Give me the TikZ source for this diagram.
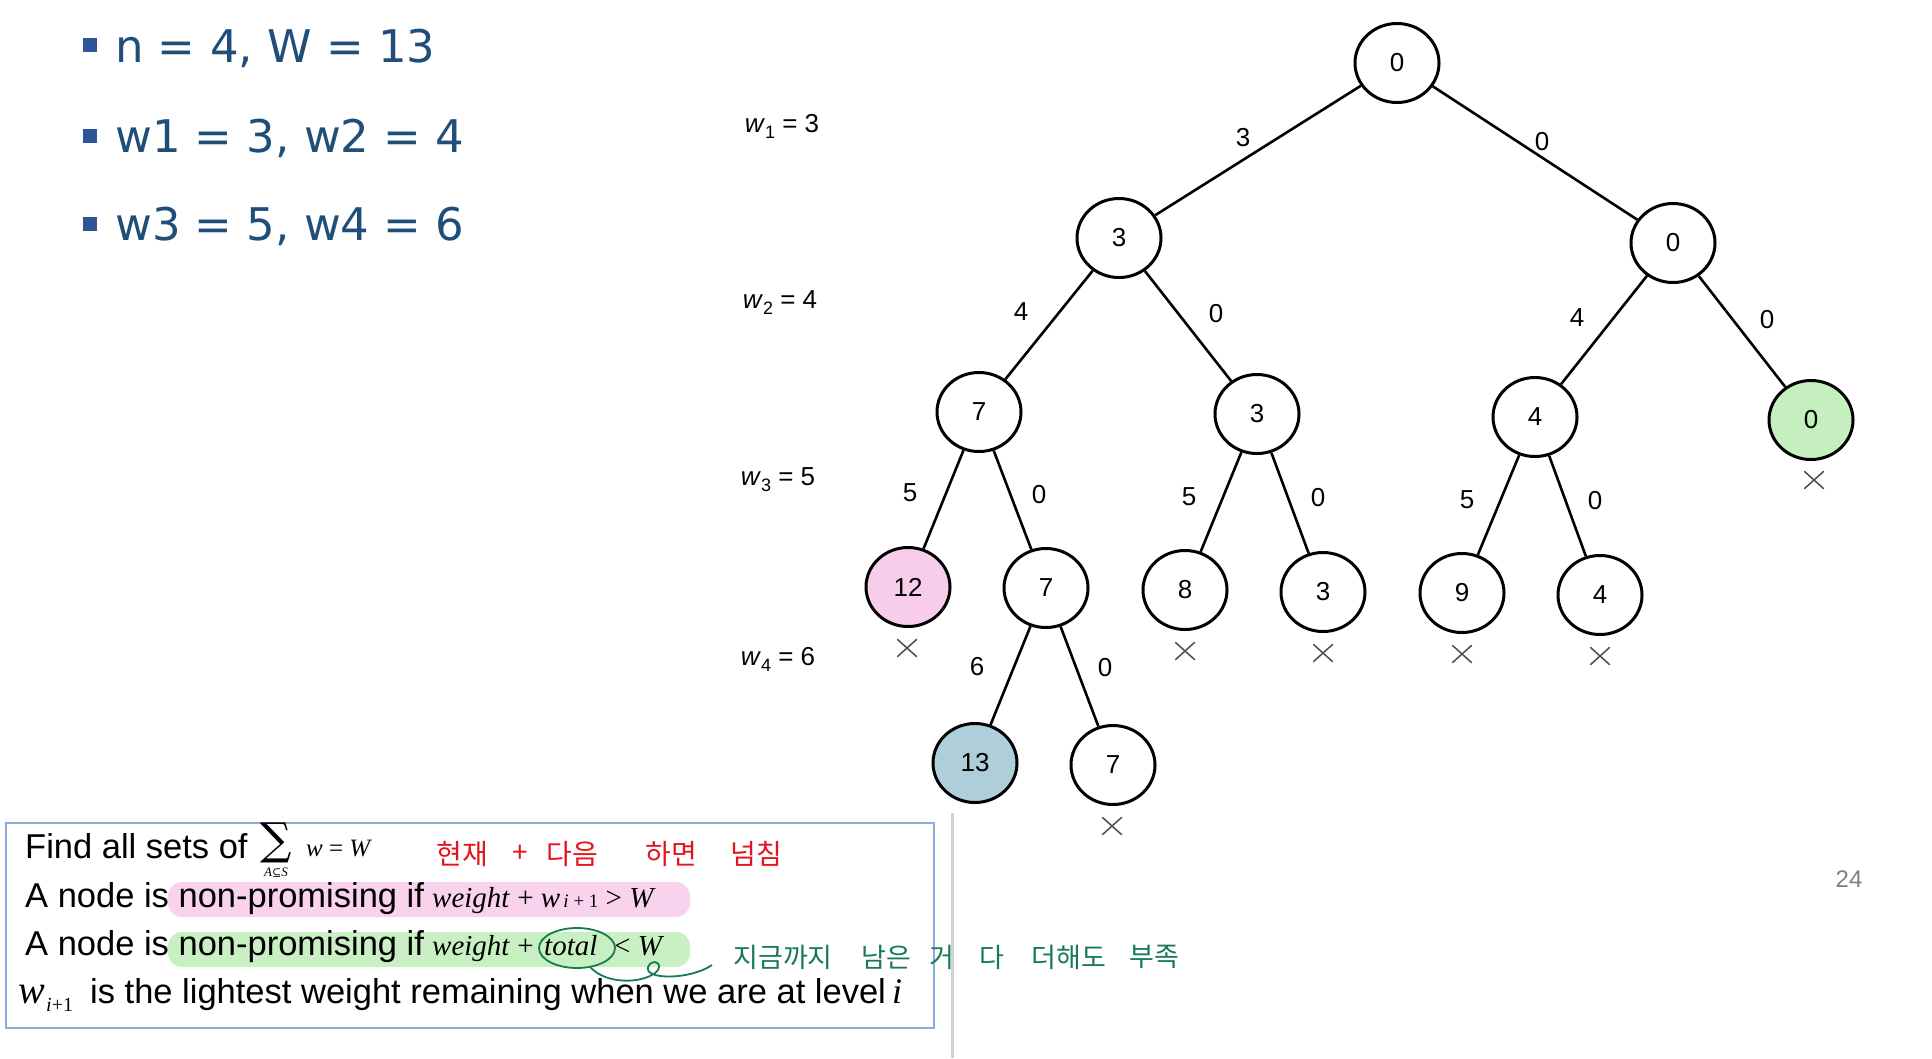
\documentclass[tikz,border=0pt]{standalone}
\usepackage{fontspec}
\setmainfont{Liberation Sans}
\newfontfamily\bulfont{DejaVu Sans}
\newfontfamily\serfont{Liberation Serif}
\newfontfamily\dvserif{DejaVu Serif}
\newfontfamily\krfont{Noto Sans CJK KR}
\usetikzlibrary{shapes.geometric,shapes.misc}
\definecolor{bultext}{RGB}{31,78,121}
\definecolor{bulsq}{RGB}{47,85,151}
\definecolor{pinkfill}{RGB}{248,205,235}
\definecolor{greenfill}{RGB}{198,239,192}
\definecolor{bluefill}{RGB}{174,207,218}
\definecolor{pinkhl}{RGB}{249,211,238}
\definecolor{greenhl}{RGB}{201,240,195}
\definecolor{boxblue}{RGB}{143,170,220}
\definecolor{redink}{RGB}{226,20,30}
\definecolor{greenink}{RGB}{22,122,82}
\begin{document}
\begin{tikzpicture}[x=1pt,y=-1pt,
  tnode/.style={ellipse, draw=black, line width=3pt, minimum width=84pt, minimum height=79pt, inner sep=0pt, fill=white, font=\fontsize{26}{26}\selectfont},
  elab/.style={inner sep=0pt, font=\fontsize{26}{26}\selectfont},
  lvl/.style={inner sep=0pt, font=\fontsize{26}{26}\selectfont},
  xmark/.style={cross out, draw=black!70, line width=1.5pt, minimum width=18pt, minimum height=16pt, inner sep=0pt},
  tedge/.style={line width=2.6pt},
  bsq/.style={fill=bulsq, minimum size=14pt, inner sep=0pt},
  btext/.style={anchor=base west, inner sep=0pt, text=bultext, font=\bulfont\fontsize{45}{45}\selectfont},
  boxtext/.style={anchor=base west, inner sep=0pt, font=\fontsize{34.5}{34.5}\selectfont},
  mathtext/.style={anchor=base west, inner sep=0pt, font=\serfont\fontsize{29}{29}\selectfont},
  redword/.style={inner sep=0pt, text=redink, font=\krfont\fontsize{28}{28}\selectfont},
  greenword/.style={inner sep=0pt, text=greenink, font=\krfont\fontsize{27}{27}\selectfont}
]
\useasboundingbox (0,0) rectangle (1932,1058);

% bullets
\node[bsq] (b1) at (90,45) {};
\node[bsq] (b2) at (90,136) {};
\node[bsq] (b3) at (90,224) {};
\node[btext] (t1) at (115,62) {n = 4, W = 13};
\node[btext] (t2) at (115,152) {w1 = 3, w2 = 4};
\node[btext] (t3) at (115,240) {w3 = 5, w4 = 6};

% level labels
\node[lvl] (lv1) at (782,126) {\textit{w}\raisebox{-6pt}{\fontsize{18}{18}\selectfont 1} = 3};
\node[lvl] (lv2) at (780,303) {\textit{w}\raisebox{-6pt}{\fontsize{18}{18}\selectfont 2} = 4};
\node[lvl] (lv3) at (778,480) {\textit{w}\raisebox{-6pt}{\fontsize{18}{18}\selectfont 3} = 5};
\node[lvl] (lv4) at (778,659) {\textit{w}\raisebox{-6pt}{\fontsize{18}{18}\selectfont 4} = 6};

% tree nodes
\node[tnode] (r) at (1397,63) {0};
\node[tnode] (a) at (1119,238) {3};
\node[tnode] (b) at (1673,243) {0};
\node[tnode] (aa) at (979,412) {7};
\node[tnode] (ab) at (1257,414) {3};
\node[tnode] (ba) at (1535,417) {4};
\node[tnode, fill=greenfill] (bb) at (1811,420) {0};
\node[tnode, fill=pinkfill] (aaa) at (908,587) {12};
\node[tnode] (aab) at (1046,588) {7};
\node[tnode] (aba) at (1185,590) {8};
\node[tnode] (abb) at (1323,592) {3};
\node[tnode] (baa) at (1462,593) {9};
\node[tnode] (bab) at (1600,595) {4};
\node[tnode, fill=bluefill] (aaba) at (975,763) {13};
\node[tnode] (aabb) at (1113,765) {7};

% edges
\draw[tedge] (r) -- (a);
\draw[tedge] (r) -- (b);
\draw[tedge] (a) -- (aa);
\draw[tedge] (a) -- (ab);
\draw[tedge] (b) -- (ba);
\draw[tedge] (b) -- (bb);
\draw[tedge] (aa) -- (aaa);
\draw[tedge] (aa) -- (aab);
\draw[tedge] (ab) -- (aba);
\draw[tedge] (ab) -- (abb);
\draw[tedge] (ba) -- (baa);
\draw[tedge] (ba) -- (bab);
\draw[tedge] (aab) -- (aaba);
\draw[tedge] (aab) -- (aabb);

% edge labels
\node[elab] (e1) at (1243,138) {3};
\node[elab] (e2) at (1542,142) {0};
\node[elab] (e3) at (1021,312) {4};
\node[elab] (e4) at (1216,314) {0};
\node[elab] (e5) at (1577,318) {4};
\node[elab] (e6) at (1767,320) {0};
\node[elab] (e7) at (910,493) {5};
\node[elab] (e8) at (1039,495) {0};
\node[elab] (e9) at (1189,497) {5};
\node[elab] (e10) at (1318,498) {0};
\node[elab] (e11) at (1467,500) {5};
\node[elab] (e12) at (1595,501) {0};
\node[elab] (e13) at (977,667) {6};
\node[elab] (e14) at (1105,668) {0};

% X marks
\node[xmark] (x1) at (907,648) {};
\node[xmark] (x2) at (1185,651) {};
\node[xmark] (x3) at (1323,653) {};
\node[xmark] (x4) at (1462,654) {};
\node[xmark] (x5) at (1600,656) {};
\node[xmark] (x6) at (1814,480) {};
\node[xmark] (x7) at (1112,826) {};

% page number and separator
\node[inner sep=0pt, text=black!50, font=\fontsize{24}{24}\selectfont] (pg) at (1849,879) {24};
\draw[line width=3pt, black!18] (952,813) -- (952,1058);

% bottom box
\draw[line width=1.8pt, boxblue] (6,823) rectangle (934,1028);
\fill[pinkhl, rounded corners=14pt] (168,882) rectangle (690,917);
\fill[greenhl, rounded corners=14pt] (168,932) rectangle (690,967);

\node[boxtext] (l1) at (25,858) {Find all sets of};
\node[inner sep=0pt, font=\dvserif\fontsize{44}{44}\selectfont] (sig) at (276,843) {∑};
\node[inner sep=0pt, font=\serfont\itshape\fontsize{13}{13}\selectfont] (sigsub) at (276,873) {A{\dvserif\upshape\fontsize{11}{11}\selectfont ⊆}S};
\node[anchor=base west, inner sep=0pt, font=\serfont\fontsize{25}{25}\selectfont] (wW) at (306,856) {\textit{w} = \textit{W}};

\node[boxtext] (l2) at (25,907) {A node is non-promising if};
\node[mathtext] (m2) at (432,907) {\textit{weight} + \textit{w}{\fontsize{19}{19}\selectfont\,\textit{i} + 1} > \textit{W}};

\node[boxtext] (l3) at (25,955) {A node is non-promising if};
\node[mathtext] (m3a) at (432,955) {\textit{weight} +};
\node[mathtext] (m3b) at (544,955) {\textit{total}};
\node[mathtext] (m3c) at (614,955) {< \textit{W}};

\node[anchor=base west, inner sep=0pt, font=\serfont\itshape\fontsize{40}{40}\selectfont] (l4w) at (18,1003) {w};
\node[anchor=base west, inner sep=0pt, font=\serfont\fontsize{20}{20}\selectfont] (l4s) at (46,1011) {\textit{i}+1};
\node[boxtext] (l4) at (90,1003) {is the lightest weight remaining when we are at level};
\node[anchor=base west, inner sep=0pt, font=\serfont\itshape\fontsize{36}{36}\selectfont] (l4i) at (892,1003) {i};

% handwriting annotations
\node[redword] (k1) at (462,854) {현재};
\node[redword] (k2) at (520,854) {+};
\node[redword] (k3) at (572,854) {다음};
\node[redword] (k4) at (671,854) {하면};
\node[redword] (k5) at (756,854) {넘침};

\node[ellipse, draw=greenink, line width=1.8pt, minimum width=76pt, minimum height=40pt, inner sep=0pt] (tot) at (577,948) {};
\coordinate (sqend) at (712,965);
\draw[greenink, line width=1.8pt] (tot.-55) .. controls (606,984) and (640,984) .. (655,973) .. controls (666,964) and (652,957) .. (648,967) .. controls (644,980) and (690,980) .. (sqend);

\node[greenword] (g1) at (783,957) {지금까지};
\node[greenword] (g2) at (886,957) {남은};
\node[greenword] (g3) at (942,957) {거};
\node[greenword] (g4) at (992,957) {다};
\node[greenword] (g5) at (1069,957) {더해도};
\node[greenword] (g6) at (1154,957) {부족};
\end{tikzpicture}
\end{document}
